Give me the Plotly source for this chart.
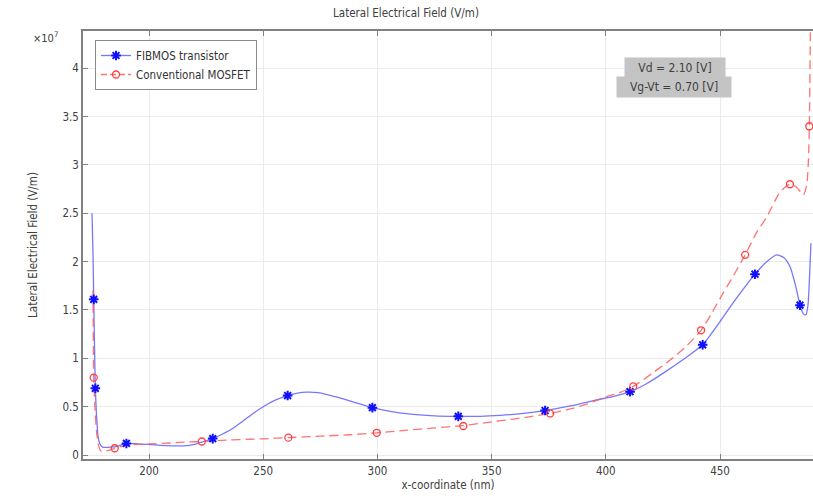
import plotly.graph_objects as go

# x-coordinate (nm) and lateral field (units of 1e7 V/m)
fib_x = [175.05, 175.5, 175.8, 176.2, 176.5, 177.0, 177.7, 178.6, 179.9, 182, 185.7, 190.1,
         195, 200, 205, 210, 215, 220, 224, 227.9, 232, 237, 241, 245, 250, 255, 260.7,
         265, 269, 274, 278, 283.6, 290, 297.8, 305, 315.7, 325, 335.4, 345, 353.7, 364,
         373.4, 385, 396, 404, 410.6, 418, 426, 434, 442.4, 450, 455, 460, 465.3, 470,
         474.8, 478, 480.6, 483, 485, 486.5, 487.6, 488.5, 489.2, 489.8]
fib_y = [2.50, 2.05, 1.61, 1.05, 0.69, 0.42, 0.19, 0.11, 0.08, 0.08, 0.086, 0.12,
         0.115, 0.11, 0.10, 0.095, 0.095, 0.11, 0.14, 0.17, 0.215, 0.28, 0.35, 0.42, 0.50, 0.565, 0.615,
         0.64, 0.65, 0.645, 0.625, 0.59, 0.545, 0.49, 0.455, 0.42, 0.405, 0.40, 0.40, 0.41, 0.43,
         0.46, 0.51, 0.57, 0.61, 0.655, 0.74, 0.86, 0.99, 1.14, 1.38, 1.55, 1.71, 1.87, 1.99,
         2.07, 2.04, 1.95, 1.76, 1.55, 1.46, 1.45, 1.55, 1.85, 2.19]
fib_mx = [175.8, 176.5, 190.1, 227.9, 260.7, 297.8, 335.4, 373.4, 410.6, 442.4, 465.3, 485]
fib_my = [1.61, 0.69, 0.12, 0.17, 0.615, 0.49, 0.40, 0.46, 0.655, 1.14, 1.87, 1.55]

mos_x = [175.5, 175.8, 176.3, 177.0, 178.0, 179.2, 181, 185, 190, 195, 200, 210, 217, 223.1,
         235, 244, 250, 261, 275, 288, 299.7, 312, 325, 337.6, 346, 354, 365, 375.6, 385,
         392, 400, 406, 412, 420, 428, 435, 441.7, 446, 450, 455, 461, 466, 470.4, 476.3,
         480.6, 483.5, 486.5, 488, 488.7, 489.1, 489.4, 489.6]
mos_y = [1.71, 0.80, 0.50, 0.25, 0.09, 0.035, 0.04, 0.07, 0.10, 0.11, 0.115, 0.125, 0.135, 0.14,
         0.155, 0.163, 0.168, 0.18, 0.195, 0.21, 0.23, 0.255, 0.28, 0.305, 0.33, 0.355, 0.39, 0.43, 0.48,
         0.53, 0.60, 0.645, 0.71, 0.84, 0.98, 1.12, 1.29, 1.45, 1.62, 1.82, 2.07, 2.30, 2.46, 2.72,
         2.80, 2.77, 2.69, 2.80, 3.05, 3.40, 4.0, 4.6]
mos_mx = [175.8, 185, 223.1, 261, 299.7, 337.6, 375.6, 412, 441.7, 461, 480.6, 489.1]
mos_my = [0.80, 0.07, 0.14, 0.18, 0.23, 0.30, 0.43, 0.71, 1.29, 2.07, 2.80, 3.40]

names = ["FIBMOS transistor", "Conventional MOSFET"]
x_ticks = [200, 250, 300, 350, 400, 450]
y_ticks = [0, 0.5, 1, 1.5, 2, 2.5, 3, 3.5, 4]
y_ticktext = ["0", "0.5", "1", "1.5", "2", "2.5", "3", "3.5", "4"]

FONT = "DejaVu Sans Condensed, DejaVu Sans, sans-serif"
BLUE_LINE = "rgba(95,95,255,0.85)"
BLUE_MK = "#1010ff"
RED_LINE = "rgba(255,90,90,0.85)"
RED_MK = "#ff4040"

fig = go.Figure()
fig.add_trace(go.Scatter(x=fib_x, y=fib_y, mode="lines", showlegend=False,
                         line=dict(color=BLUE_LINE, width=1.3, shape="spline", smoothing=0.6)))
fig.add_trace(go.Scatter(x=mos_x, y=mos_y, mode="lines", showlegend=False,
                         line=dict(color=RED_LINE, width=1.3, dash="9px,5px", shape="spline", smoothing=0.6)))
fig.add_trace(go.Scatter(x=fib_mx, y=fib_my, mode="markers", showlegend=False,
                         marker=dict(symbol="asterisk-open", size=8, color=BLUE_MK,
                                     line=dict(color=BLUE_MK, width=2))))
fig.add_trace(go.Scatter(x=mos_mx, y=mos_my, mode="markers", showlegend=False,
                         marker=dict(symbol="circle-open", size=7, color=RED_MK,
                                     line=dict(color=RED_MK, width=1.3))))
# legend entries
fig.add_trace(go.Scatter(x=[None], y=[None], mode="lines+markers", name=names[0],
                         line=dict(color=BLUE_LINE, width=1.3),
                         marker=dict(symbol="asterisk-open", size=8, color=BLUE_MK,
                                     line=dict(color=BLUE_MK, width=2))))
fig.add_trace(go.Scatter(x=[None], y=[None], mode="lines+markers", name=names[1],
                         line=dict(color=RED_LINE, width=1.3, dash="6px,3px"),
                         marker=dict(symbol="circle-open", size=7, color=RED_MK,
                                     line=dict(color=RED_MK, width=1.3))))

W, H = 813, 498
L, R, T, B = 83, 0, 31, 39
pw, ph = W - L - R, H - T - B

def px(xp):  # window x pixel -> paper fraction
    return (xp - L) / pw

def py(yp):  # window y pixel -> paper fraction
    return (H - B - yp) / ph

fig.update_layout(
    width=W, height=H,
    margin=dict(l=L, r=R, t=T, b=B, autoexpand=False),
    paper_bgcolor="white", plot_bgcolor="white",
    font=dict(family=FONT, size=11, color="#404040"),
    title=dict(text="Lateral Electrical Field (V/m)", x=406 / W, xref="container",
               xanchor="center", y=1 - 13 / H, yref="container", yanchor="middle",
               font=dict(size=11.5, color="#404040")),
    legend=dict(x=px(95), y=py(40), xanchor="left", yanchor="top",
                bgcolor="white", bordercolor="#8a8a8a", borderwidth=1,
                font=dict(size=11.5, color="#333333"), itemwidth=30,
                tracegroupgap=0),
    xaxis=dict(range=[171.1, 490.7], tickvals=x_ticks, showgrid=True, automargin=False,
               gridcolor="#ebebeb", gridwidth=1, zeroline=False,
               showline=True, linecolor="#808080", linewidth=1.5, mirror="ticks",
               ticks="inside", ticklen=5, tickcolor="#808080",
               tickfont=dict(size=11.5, color="#404040"),
               title=dict(text="x-coordinate (nm)", font=dict(size=11.5, color="#404040"), standoff=2)),
    yaxis=dict(range=[-0.041, 4.385], tickvals=y_ticks, ticktext=y_ticktext, showgrid=True,
               automargin=False,
               gridcolor="#ebebeb", gridwidth=1, zeroline=False,
               showline=True, linecolor="#808080", linewidth=1.5,
               ticks="inside", ticklen=5, tickcolor="#808080",
               tickfont=dict(size=11.5, color="#404040"),
               title=dict(text="Lateral Electrical Field (V/m)", font=dict(size=11.5, color="#404040"), standoff=22)),
)

fig.add_annotation(text="×10<sup>7</sup>", xref="paper", yref="paper", x=px(45), y=py(38),
                   xanchor="center", yanchor="middle",
                   showarrow=False, font=dict(size=11, color="#404040"))
fig.add_annotation(text="Vd = 2.10 [V]", xref="paper", yref="paper", x=px(675), y=py(68),
                   xanchor="center", yanchor="middle",
                   showarrow=False, bgcolor="#c4c4c4", borderpad=1, width=98, height=18,
                   font=dict(size=12, color="#404040"))
fig.add_annotation(text="Vg-Vt = 0.70 [V]", xref="paper", yref="paper", x=px(674), y=py(87),
                   xanchor="center", yanchor="middle",
                   showarrow=False, bgcolor="#c4c4c4", borderpad=1, width=112, height=18,
                   font=dict(size=12, color="#404040"))

fig.write_html("out.html", config={"displayModeBar": False},
               post_script="document.body.style.margin='0';document.body.style.overflow='hidden';")
